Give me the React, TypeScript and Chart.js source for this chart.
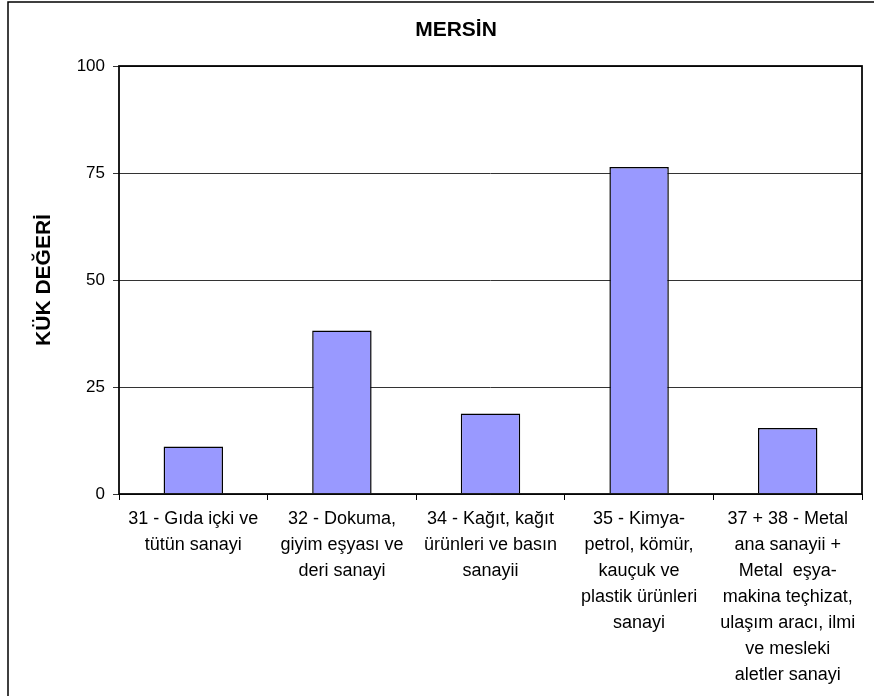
import React, { useEffect, useRef } from "react";
import { Chart, registerables } from "chart.js";

Chart.register(...registerables);

const chartTitle = "MERSİN";
const yAxisTitle = "KÜK DEĞERİ";
const categories: string[][] = [
  ["31 - Gıda içki ve", "tütün sanayi"],
  ["32 - Dokuma,", "giyim eşyası ve", "deri sanayi"],
  ["34 - Kağıt, kağıt", "ürünleri ve basın", "sanayii"],
  ["35 - Kimya-", "petrol, kömür,", "kauçuk ve", "plastik ürünleri", "sanayi"],
  ["37 + 38 - Metal", "ana sanayii +", "Metal  eşya-", "makina teçhizat,", "ulaşım aracı, ilmi", "ve mesleki", "aletler sanayi"],
];
const values: number[] = [11.1, 38.2, 18.8, 76.4, 15.4];
const yMin = 0;
const yMax = 100;
const yStep = 25;

const FONT = "'Liberation Sans', Arial, Helvetica, sans-serif";

const framePlugin = {
  id: "framePlugin",
  beforeDraw(chart: any) {
    const ctx = chart.ctx;
    ctx.save();
    ctx.fillStyle = "#ffffff";
    ctx.fillRect(0, 0, chart.width, chart.height);
    ctx.strokeStyle = "#000";
    ctx.lineWidth = 1.5;
    ctx.beginPath();
    ctx.moveTo(8, chart.height);
    ctx.lineTo(8, 2);
    ctx.lineTo(chart.width, 2);
    ctx.stroke();
    ctx.fillStyle = "#000";
    ctx.font = `bold 21px ${FONT}`;
    ctx.textAlign = "center";
    ctx.textBaseline = "middle";
    ctx.fillText(chartTitle, 456, 30);
    ctx.restore();
  },
  afterDatasetsDraw(chart: any) {
    const { ctx, chartArea } = chart;
    ctx.save();
    ctx.strokeStyle = "#000";
    ctx.lineWidth = 1.75;
    ctx.strokeRect(chartArea.left, chartArea.top, chartArea.right - chartArea.left, chartArea.bottom - chartArea.top);
    ctx.restore();
  },
};

export default function App() {
  const ref = useRef<HTMLCanvasElement | null>(null);
  useEffect(() => {
    document.body.style.margin = "0";
    const canvas = ref.current;
    if (!canvas) return;
    const chart = new Chart(canvas, {
      type: "bar",
      data: {
        labels: categories,
        datasets: [
          {
            data: values,
            backgroundColor: "#9999FF",
            borderColor: "#000000",
            borderWidth: 1.5,
            barPercentage: 0.4,
            categoryPercentage: 1,
          },
        ],
      },
      options: {
        responsive: false,
        animation: false,
        devicePixelRatio: 1,
        layout: { padding: { left: 0, right: 12, top: 66, bottom: 0 } },
        plugins: {
          legend: { display: false },
          tooltip: { enabled: false },
          title: { display: false },
        },
        scales: {
          x: {
            offset: true,
            grid: {
              display: true,
              drawOnChartArea: false,
              drawTicks: true,
              tickLength: 6,
              offset: true,
              color: "#000",
            },
            border: { display: false },
            ticks: {
              color: "#000",
              autoSkip: false,
              maxRotation: 0,
              minRotation: 0,
              padding: 6,
              font: { family: FONT, size: 18, lineHeight: 26 / 18 },
            },
            afterFit(scale: any) {
              scale.height = 202;
            },
          },
          y: {
            min: yMin,
            max: yMax,
            grid: {
              color: "#333",
              lineWidth: 1,
              tickLength: 6,
              drawTicks: true,
            },
            border: { display: false },
            ticks: {
              stepSize: yStep,
              color: "#000",
              padding: 8,
              font: { family: FONT, size: 17 },
            },
            title: {
              display: true,
              text: yAxisTitle,
              color: "#000",
              font: { family: FONT, size: 21, weight: "bold", lineHeight: 1.2 },
              padding: { top: 32, bottom: 0 },
            },
            afterFit(scale: any) {
              scale.width = 119;
            },
          },
        },
      },
      plugins: [framePlugin],
    });
    return () => chart.destroy();
  }, []);
  return (
    <div style={{ width: 874, height: 696 }}>
      <canvas ref={ref} width={874} height={696} style={{ display: "block" }} />
    </div>
  );
}
